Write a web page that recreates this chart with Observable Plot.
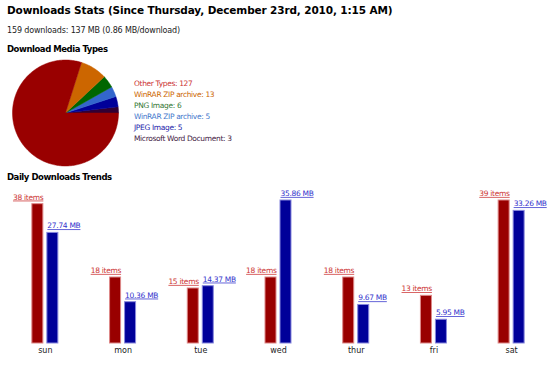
<!DOCTYPE html>
<html>
<head>
<meta charset="utf-8">
<script src="https://cdn.jsdelivr.net/npm/d3@7"></script>
<script src="https://cdn.jsdelivr.net/npm/@observablehq/plot@0.6"></script>
<style>
  html, body { margin: 0; padding: 0; background: #fff; overflow: hidden; }
  body { width: 550px; height: 366px; position: relative; font-family: "DejaVu Sans", Verdana, sans-serif; color: #000; }
  .t { position: absolute; white-space: nowrap; }
  #title { left: 7px; top: 2px; font-size: 10.5px; font-weight: bold; line-height: 16px; letter-spacing: -0.13px; }
  #sub { left: 7px; top: 25px; font-size: 8px; line-height: 12px; color: #222; letter-spacing: -0.15px; }
  #h1 { left: 7px; top: 43px; font-size: 8.5px; font-weight: bold; line-height: 12px; letter-spacing: -0.45px; }
  #h2 { left: 7px; top: 171px; font-size: 8.5px; font-weight: bold; line-height: 12px; letter-spacing: -0.45px; }
  #legend { left: 134px; top: 78px; font-size: 7.5px; line-height: 11px; letter-spacing: -0.35px; }
  #pie { position: absolute; left: 0; top: 52px; }
  #bars { position: absolute; left: 0; top: 185px; }
  #bars svg g[aria-label="text"] text { text-decoration: underline; letter-spacing: -0.3px; }
</style>
</head>
<body>
<div class="t" id="title">Downloads Stats (Since Thursday, December 23rd, 2010, 1:15 AM)</div>
<div class="t" id="sub">159 downloads: 137 MB (0.86 MB/download)</div>
<div class="t" id="h1">Download Media Types</div>
<div class="t" id="legend"></div>
<div class="t" id="h2">Daily Downloads Trends</div>
<div id="pie"></div>
<div id="bars"></div>
<script>
// ---- data ----
const types = ["Other Types", "WinRAR ZIP archive", "PNG Image", "WinRAR ZIP archive", "JPEG Image", "Microsoft Word Document"];
const typeCounts = [127, 13, 6, 5, 5, 3];
const typeColors = ["#990000", "#cc6600", "#006600", "#3366cc", "#000099", "#330033"];
const legendColors = ["#cc3333", "#cc6600", "#337733", "#4477cc", "#2222aa", "#442244"];

const days = ["sun", "mon", "tue", "wed", "thur", "fri", "sat"];
const items = [38, 18, 15, 18, 18, 13, 39];
const megabytes = [27.74, 10.36, 14.37, 35.86, 9.67, 5.95, 33.26];

// ---- legend ----
const legend = document.getElementById("legend");
types.forEach((t, i) => {
  const d = document.createElement("div");
  d.textContent = `${t}: ${typeCounts[i]}`;
  d.style.color = legendColors[i];
  legend.appendChild(d);
});

// ---- pie (slices built from counts, drawn through Plot's x/y scales) ----
const total = d3.sum(typeCounts);
// counter-clockwise from 3 o'clock, starting with the last type
let acc = 0;
const sliceMarks = [];
for (let i = types.length - 1; i >= 0; i--) {
  const a0 = acc / total * 2 * Math.PI;
  acc += typeCounts[i];
  const a1 = acc / total * 2 * Math.PI;
  const n = Math.max(2, Math.ceil((a1 - a0) / 0.02));
  const pts = [{x: 0, y: 0}];
  for (let k = 0; k <= n; k++) {
    const a = a0 + (a1 - a0) * k / n;
    pts.push({x: Math.cos(a), y: Math.sin(a)});
  }
  pts.push({x: 0, y: 0});
  sliceMarks.push(Plot.line(pts, {x: "x", y: "y", fill: typeColors[i], stroke: typeColors[i], strokeWidth: 0.5, curve: "linear"}));
}
const pie = Plot.plot({
  width: 130, height: 120,
  margin: 0,
  x: {domain: [-1, 1], range: [12, 118], axis: null},
  y: {domain: [-1, 1], range: [113.5, 7.5], axis: null},
  marks: sliceMarks
});
document.getElementById("pie").appendChild(pie);

// ---- bars ----
const itemMax = d3.max(items), mbMax = d3.max(megabytes);
const rows = days.map((d, i) => ({day: d, items: items[i], mb: megabytes[i], itemsN: items[i] / itemMax, mbN: megabytes[i] / mbMax}));
const bw = 77.71;
const bars = Plot.plot({
  width: 550, height: 181,
  marginTop: 15, marginBottom: 23, marginLeft: 6, marginRight: 0,
  x: {domain: days, padding: 0, round: false, label: null, tickSize: 0, tickPadding: 4},
  y: {domain: [0, 1], axis: null},
  style: {fontFamily: "DejaVu Sans, Verdana, sans-serif", fontSize: "8px", color: "#222"},
  marks: [
    Plot.barY(rows, {x: "day", y: "itemsN", fill: "#990000", stroke: "#dd8888", strokeWidth: 1,
      insetLeft: bw / 2 - 13, insetRight: bw / 2 + 2}),
    Plot.barY(rows, {x: "day", y: "mbN", fill: "#000099", stroke: "#8888dd", strokeWidth: 1,
      insetLeft: bw / 2 + 2, insetRight: bw / 2 - 13}),
    Plot.text(rows, {x: "day", y: "itemsN", text: d => `${d.items} items`, dx: -2, dy: -7, textAnchor: "end", fill: "#cc3333", fontSize: 7.5}),
    Plot.text(rows, {x: "day", y: "mbN", text: d => `${d.mb.toFixed(2)} MB`, dx: 2, dy: -7, textAnchor: "start", fill: "#3333cc", fontSize: 7.5})
  ]
});
document.getElementById("bars").appendChild(bars);
</script>
</body>
</html>
